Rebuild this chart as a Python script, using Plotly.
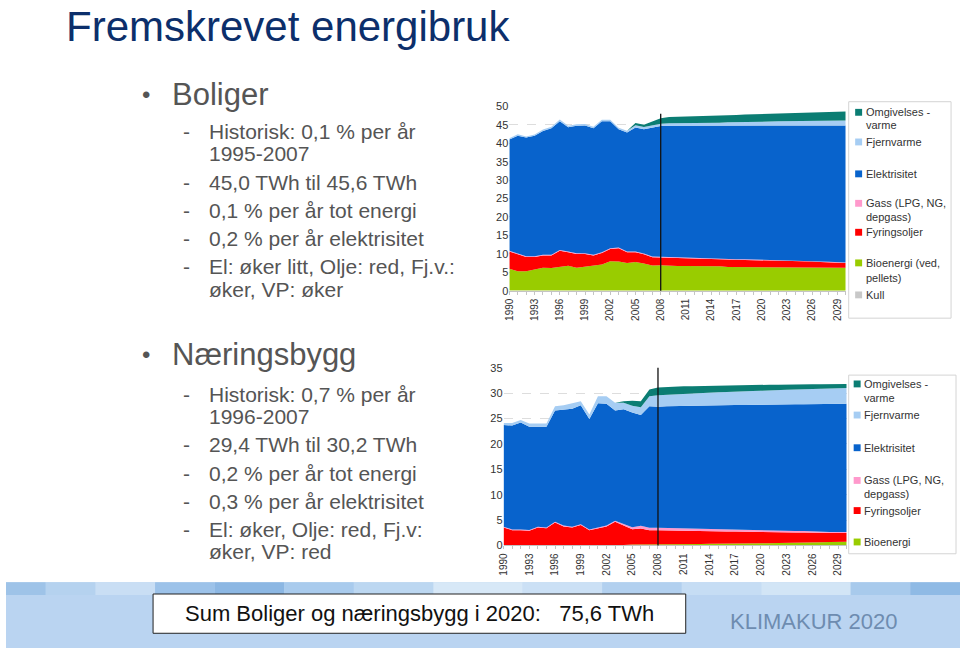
import plotly.graph_objects as go

W, H = 960, 654
FONT = "Arial, Liberation Sans, sans-serif"

years = list(range(1990, 2031))

# ---------------- Boliger (TWh) ----------------
b_kull = [0.05] * 11 + [0.0] * 30
b_bio = [5.9, 5.2, 5.2, 5.8, 6.2, 6.1, 6.5, 6.7, 6.2, 6.5, 6.8, 7.1, 8.0, 7.9, 7.5, 7.8, 7.4, 6.8, 6.9,
         6.7, 6.7, 6.7, 6.7, 6.7, 6.7, 6.6, 6.4, 6.4, 6.4, 6.4, 6.4, 6.4, 6.4, 6.3, 6.2, 6.2, 6.2, 6.2, 6.2, 6.2, 6.2]
b_olje = [4.7, 4.6, 3.9, 3.3, 3.3, 3.4, 4.3, 3.7, 3.7, 3.4, 2.7, 3.1, 3.3, 3.6, 2.9, 2.6, 2.5, 2.3, 2.2,
          2.3, 2.2, 2.1, 2.0, 2.0, 1.9, 1.9, 2.05, 2.0, 1.95, 1.9, 1.9, 1.9, 1.8, 1.8, 1.8, 1.75, 1.7, 1.6, 1.5, 1.4, 1.3]
b_gass = [0.2] * 19 + [0.15] * 22
b_el = [30.2, 32.0, 32.2, 32.7, 33.6, 34.3, 34.9, 33.7, 34.6, 34.7, 34.3, 35.6, 34.5, 32.1, 32.3, 33.7, 33.7, 35.0, 35.4,
        35.6, 35.7, 35.8, 35.9, 35.9, 36.0, 36.1, 36.2, 36.2, 36.3, 36.3, 36.4, 36.4, 36.5, 36.6, 36.7, 36.8, 36.8, 36.9, 37.0, 37.1, 37.2]
b_fjv = [0.3, 0.4, 0.3, 0.3, 0.4, 0.4, 0.5, 0.4, 0.4, 0.4, 0.4, 0.4, 0.4, 0.4, 0.5, 0.6, 0.6, 0.6, 0.6,
         0.7, 0.7, 0.75, 0.75, 0.8, 0.8, 0.85, 0.9, 0.95, 1.0, 1.0, 1.0, 1.05, 1.1, 1.1, 1.15, 1.2, 1.2, 1.25, 1.25, 1.3, 1.3]
b_omg = [0.0] * 15 + [0.6, 0.6, 1.1, 1.5,
                      1.7, 1.75, 1.8, 1.8, 1.85, 1.9, 1.9, 1.95, 2.0, 2.0, 2.05, 2.1, 2.1, 2.15, 2.2, 2.2, 2.25, 2.3, 2.35, 2.4, 2.45, 2.5]

# ---------------- Næringsbygg (TWh) ----------------
n_bio = [0.05] * 14 + [0.1, 0.2, 0.2, 0.2, 0.2, 0.2, 0.2, 0.2, 0.2, 0.3, 0.35, 0.35, 0.35, 0.4, 0.4, 0.4,
                      0.45, 0.45, 0.5, 0.5, 0.5, 0.55, 0.55, 0.6, 0.65, 0.7, 0.7]
n_olje = [3.5, 2.95, 2.95, 2.85, 3.5, 3.35, 4.45, 3.7, 3.5, 3.95, 2.95, 3.35, 3.7, 4.6, 3.8, 3.0, 3.15, 2.8, 2.8,
          2.75, 2.75, 2.7, 2.7, 2.55, 2.45, 2.45, 2.4, 2.35, 2.3, 2.3, 2.2, 2.2, 2.1, 2.1, 2.05, 2.0, 1.95, 1.9, 1.8, 1.75, 1.75]
n_gass = [0.15] * 13 + [0.2, 0.3, 0.4, 0.5, 0.5, 0.5, 0.5, 0.5, 0.45, 0.45, 0.45, 0.45, 0.4, 0.4, 0.4, 0.4,
                       0.35, 0.35, 0.3, 0.3, 0.3, 0.3, 0.3, 0.25, 0.25, 0.2, 0.2, 0.2]
n_el = [20.0, 20.45, 21.05, 20.35, 19.7, 19.85, 21.95, 22.9, 23.2, 23.45, 21.75, 24.45, 24.0, 21.75, 22.6, 22.6, 21.85, 23.9, 23.8,
        23.95, 24.0, 24.15, 24.15, 24.25, 24.35, 24.4, 24.45, 24.5, 24.55, 24.65, 24.7, 24.8, 24.85, 24.9, 24.95, 24.95,
        25.1, 25.1, 25.2, 25.25, 25.25]
n_fjv = [0.4, 0.5, 0.5, 0.6, 0.6, 0.6, 0.8, 0.8, 1.1, 0.8, 0.9, 1.4, 1.5, 1.5, 1.3, 1.3, 1.5, 2.0, 2.3,
         2.3, 2.35, 2.4, 2.45, 2.5, 2.5, 2.55, 2.6, 2.65, 2.7, 2.7, 2.75, 2.8, 2.8, 2.85, 2.9, 2.9, 2.95, 3.0, 3.0, 3.05, 3.1]
n_omg = [0.0] * 14 + [0.3, 1.0, 1.2, 1.3, 1.5,
                      1.5, 1.45, 1.45, 1.4, 1.35, 1.35, 1.3, 1.3, 1.25, 1.2, 1.2, 1.15, 1.1, 1.1, 1.05, 1.0, 1.0,
                      0.95, 0.9, 0.9, 0.85, 0.8]

tick_years = list(range(1990, 2030, 3))
tick_text = [str(y) for y in tick_years]

C_OMG = "#0b7d73"
C_FJV = "#a6cdf3"
C_EL = "#0863cc"
C_GASS = "#ff99cc"
C_OLJE = "#ff0000"
C_BIO = "#99cc00"
C_KULL = "#c8c8c8"

fig = go.Figure()


def add_stack(xax, yax, group, series):
    for name, vals, col in series:
        fig.add_trace(go.Scatter(
            x=years, y=vals, name=name, stackgroup=group, mode="lines",
            line=dict(width=0, color=col), fillcolor=col, xaxis=xax, yaxis=yax,
            showlegend=False, hoverinfo="x+y+name"))


add_stack("x", "y", "bol", [
    ("Kull", b_kull, C_KULL), ("Bioenergi (ved, pellets)", b_bio, C_BIO),
    ("Fyringsoljer", b_olje, C_OLJE), ("Gass (LPG, NG, depgass)", b_gass, C_GASS),
    ("Elektrisitet", b_el, C_EL), ("Fjernvarme", b_fjv, C_FJV), ("Omgivelsesvarme", b_omg, C_OMG)])
add_stack("x2", "y2", "nae", [
    ("Bioenergi", n_bio, C_BIO), ("Fyringsoljer", n_olje, C_OLJE),
    ("Gass (LPG, NG, depgass)", n_gass, C_GASS), ("Elektrisitet", n_el, C_EL),
    ("Fjernvarme", n_fjv, C_FJV), ("Omgivelsesvarme", n_omg, C_OMG)])


def px(x):
    return x / W


def py(y):
    return 1 - y / H


axis_common = dict(showline=False, zeroline=False, ticks="", tickfont=dict(family=FONT, size=11, color="#333333"))
xcommon = dict(range=[1990, 2030], tickmode="array", tickvals=tick_years, ticktext=tick_text, tickangle=-90,
               tickfont=dict(family=FONT, size=10, color="#333333"), showgrid=False, zeroline=False,
               showline=True, linecolor="#c4c4c4", ticks="outside", ticklen=3, tickcolor="#c4c4c4",
               minor=dict(dtick=1, ticks="outside", ticklen=3, tickcolor="#c4c4c4"))
fig.update_layout(
    width=W, height=H, margin=dict(l=0, r=0, t=0, b=0), autosize=False,
    paper_bgcolor="white", plot_bgcolor="white", showlegend=False,
    font=dict(family=FONT, color="#333333"),
    xaxis=dict(domain=[px(506.5), px(845)], anchor="y", **xcommon),
    yaxis=dict(domain=[py(290), py(102.3)], range=[0, 50], dtick=5, showgrid=True, gridcolor="#dddddd",
               griddash="dash", anchor="x", **axis_common),
    xaxis2=dict(domain=[px(500.7), px(846)], anchor="y2", **xcommon),
    yaxis2=dict(domain=[py(549.5), py(368.5)], range=[0, 35], dtick=5, showgrid=True, gridcolor="#dddddd",
                griddash="dash", anchor="x2", **axis_common),
)

shapes = []
annots = []

# Bottom banner
shapes.append(dict(type="rect", xref="paper", yref="paper", x0=0, x1=1, y0=0, y1=py(587),
                   fillcolor="#bad4f1", line=dict(width=0), layer="below"))
strip = [(0, 40, "#9ec3e8"), (40, 90, "#b5d2ef"), (90, 150, "#c9def4"), (150, 210, "#9cc2e9"),
         (210, 280, "#8cb7e3"), (280, 350, "#a9cbed"), (350, 430, "#bcd7f1"), (430, 520, "#d7e8f7"),
         (520, 600, "#cbe0f5"), (600, 680, "#b2d0ef"), (680, 760, "#c6ddf4"), (760, 850, "#d2e5f6"),
         (850, 910, "#a8caec"), (910, 960, "#8fbae5")]
for x0, x1, c in strip:
    shapes.append(dict(type="rect", xref="paper", yref="paper", x0=px(x0), x1=px(x1), y0=py(600), y1=py(587),
                       fillcolor=c, line=dict(width=0), layer="below"))

# Sum box
shapes.append(dict(type="rect", xref="paper", yref="paper", x0=px(148), x1=px(684), y0=py(639), y1=py(599),
                   fillcolor="white", line=dict(color="#222222", width=1)))
annots.append(dict(text="Sum Boliger og næringsbygg i 2020:&nbsp;&nbsp;&nbsp;75,6 TWh", x=px(416), y=py(619),
                   xref="paper", yref="paper", showarrow=False, xanchor="center", yanchor="middle",
                   font=dict(family=FONT, size=22, color="#111111")))
annots.append(dict(text="KLIMAKUR 2020", x=px(813), y=py(627), xref="paper", yref="paper", showarrow=False,
                   xanchor="center", yanchor="middle", font=dict(family=FONT, size=22, color="#6e8cb0")))

# Title
annots.append(dict(text="Fremskrevet energibruk", x=px(58), y=py(21), xref="paper", yref="paper",
                   showarrow=False, xanchor="left", yanchor="middle",
                   font=dict(family=FONT, size=42, color="#0c2f6b")))

GREY = "#555555"


def bullet(text, y):
    annots.append(dict(text="•", x=px(141), y=py(y), xref="paper", yref="paper", showarrow=False,
                       xanchor="center", yanchor="middle", font=dict(family=FONT, size=24, color=GREY)))
    annots.append(dict(text=text, x=px(165), y=py(y), xref="paper", yref="paper", showarrow=False,
                       xanchor="left", yanchor="middle", font=dict(family=FONT, size=31, color=GREY)))


def sub(lines, ys):
    annots.append(dict(text="-", x=px(182), y=py(ys[0]), xref="paper", yref="paper", showarrow=False,
                       xanchor="center", yanchor="middle", font=dict(family=FONT, size=21, color=GREY)))
    for t, y in zip(lines, ys):
        annots.append(dict(text=t, x=px(202), y=py(y), xref="paper", yref="paper", showarrow=False,
                           xanchor="left", yanchor="middle", font=dict(family=FONT, size=21, color=GREY)))


bullet("Boliger", 90)
sub(["Historisk: 0,1 % per år", "1995-2007"], [128, 150.5])
sub(["45,0 TWh til 45,6 TWh"], [179.5])
sub(["0,1 % per år tot energi"], [208])
sub(["0,2 % per år elektrisitet"], [236.5])
sub(["El: øker litt, Olje: red, Fj.v.:", "øker, VP: øker"], [265.5, 289])

bullet("Næringsbygg", 355)
sub(["Historisk: 0,7 % per år", "1996-2007"], [395.5, 418])
sub(["29,4 TWh til 30,2 TWh"], [446.5])
sub(["0,2 % per år tot energi"], [476])
sub(["0,3 % per år elektrisitet"], [505])
sub(["El: øker, Olje: red, Fj.v:", "øker, VP: red"], [533.5, 556])

# 2008 divider lines
shapes.append(dict(type="line", xref="x", yref="y domain", x0=2008, x1=2008, y0=0, y1=0.96,
                   line=dict(color="#111111", width=1.3)))
shapes.append(dict(type="line", xref="x2", yref="y2 domain", x0=2008, x1=2008, y0=0, y1=1.0,
                   line=dict(color="#111111", width=1.3)))

# Legends (drawn as boxes with colour keys)
shapes.append(dict(type="rect", xref="paper", yref="paper", x0=px(848), x1=px(951), y0=py(318), y1=py(97.5),
                   fillcolor="rgba(0,0,0,0)", line=dict(color="#d4d4d4", width=1)))
shapes.append(dict(type="rect", xref="paper", yref="paper", x0=px(848), x1=px(956), y0=py(558), y1=py(376),
                   fillcolor="rgba(0,0,0,0)", line=dict(color="#d4d4d4", width=1)))

leg_top = [
    (C_OMG, ["Omgivelses -", "varme"], [108.3, 121.7]),
    (C_FJV, ["Fjernvarme"], [138.5]),
    (C_EL, ["Elektrisitet"], [171]),
    (C_GASS, ["Gass (LPG, NG,", "depgass)"], [201, 214.5]),
    (C_OLJE, ["Fyringsoljer"], [230.5]),
    (C_BIO, ["Bioenergi (ved,", "pellets)"], [261.7, 276.7]),
    (C_KULL, ["Kull"], [294.3]),
]
leg_bot = [
    (C_OMG, ["Omgivelses -", "varme"], [385, 399.3]),
    (C_FJV, ["Fjernvarme"], [416.7]),
    (C_EL, ["Elektrisitet"], [450]),
    (C_GASS, ["Gass (LPG, NG,", "depgass)"], [483.3, 496.7]),
    (C_OLJE, ["Fyringsoljer"], [514]),
    (C_BIO, ["Bioenergi"], [546]),
]


def draw_legend(entries, sqx, tx):
    for col, lines, ys in entries:
        shapes.append(dict(type="rect", xref="paper", yref="paper", x0=px(sqx), x1=px(sqx + 7),
                           y0=py(ys[0] + 3.5), y1=py(ys[0] - 3.5), fillcolor=col, line=dict(width=0)))
        for t, y in zip(lines, ys):
            annots.append(dict(text=t, x=px(tx), y=py(y), xref="paper", yref="paper", showarrow=False,
                               xanchor="left", yanchor="middle", font=dict(family=FONT, size=11, color="#333333")))


draw_legend(leg_top, 854.5, 863)
draw_legend(leg_bot, 853, 861.5)

fig.update_layout(shapes=shapes, annotations=annots)

fig.write_html("out.html", config={"displayModeBar": False},
               post_script="document.documentElement.style.margin='0';document.body.style.margin='0';"
                           "document.body.style.overflow='hidden';")
